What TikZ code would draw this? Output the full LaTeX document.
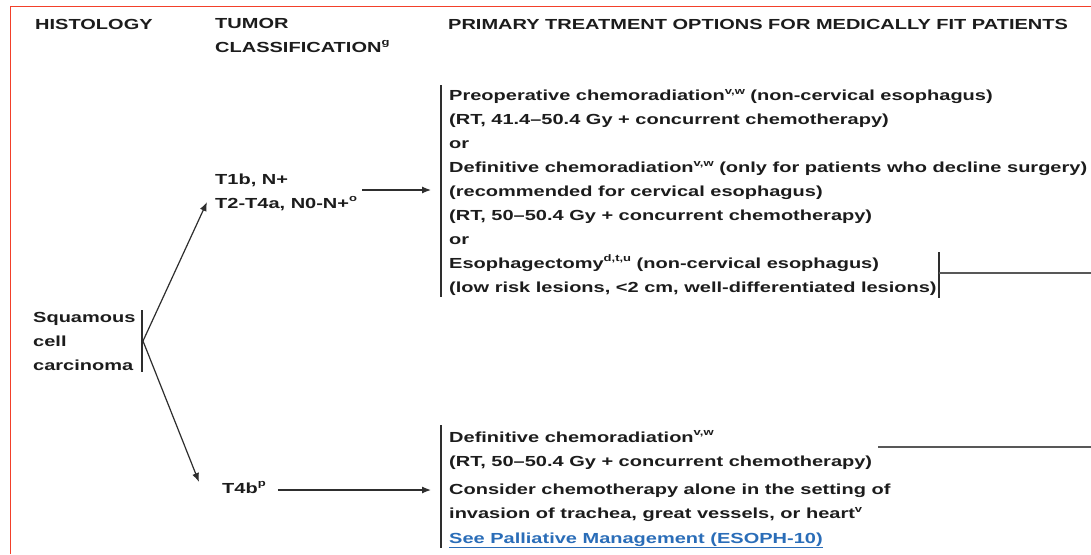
\documentclass[tikz,border=0pt]{standalone}
\usepackage{fontspec}
\setmainfont{Liberation Sans}[FakeStretch=1.37]
\usetikzlibrary{arrows.meta}
\definecolor{ink}{HTML}{1C1C1C}
\definecolor{framered}{HTML}{F2402A}
\definecolor{linkblue}{HTML}{2A6DB8}
\definecolor{wire}{HTML}{2E2E2E}
\newcommand{\supx}[1]{\raisebox{0.42em}{\fontsize{9.5}{9.5}\selectfont #1}}
\begin{document}
\begin{tikzpicture}[x=1pt,y=-1pt,
  txt/.style={inner sep=0pt, anchor=base west, align=left, text=ink,
    font=\bfseries\fontsize{14.6}{23.9}\selectfont},
  lowtxt/.style={txt, font=\bfseries\fontsize{14.6}{24.5}\selectfont},
  bar/.style={draw=wire, line width=1.2pt},
  wireline/.style={draw=wire!80, line width=1.5pt},
  arr/.style={draw=wire, line width=1.2pt, -{Latex[length=9pt,width=7pt]}}]
\useasboundingbox (0,0) rectangle (1091,554);
\fill[white] (0,0) rectangle (1091,554);
\draw[framered, line width=1.6pt] (10.5,554) -- (10.5,6.5) -- (1091,6.5);

% headers (base anchor = baseline of the last line)
\node[txt] (hist) at (35,29) {HISTOLOGY};
\node[txt] (tumor) at (215,52) {TUMOR\\CLASSIFICATION\supx{g}};
\node[txt] (primary) at (448,29) {PRIMARY TREATMENT OPTIONS FOR MEDICALLY FIT PATIENTS};

% histology
\node[txt] (scc) at (33,370) {Squamous\\cell\\carcinoma};
\draw[bar] (142,310) -- (142,372);
\coordinate (fork) at (143,341);

% classification
\node[txt] (t1) at (215,208) {T1b, N+\\T2-T4a, N0-N+\supx{o}};
\node[txt] (t4b) at (222,493) {T4b\supx{p}};
\coordinate (t1in) at (207,202);
\coordinate (t4bin) at (199,482);
\draw[arr] (fork) -- (t1in);
\draw[arr] (fork) -- (t4bin);

% treatment blocks
\node[txt] (up) at (449,292) {Preoperative chemoradiation\supx{v,w} (non-cervical esophagus)\\(RT, 41.4--50.4 Gy + concurrent chemotherapy)\\or\\Definitive chemoradiation\supx{v,w} (only for patients who decline surgery)\\(recommended for cervical esophagus)\\(RT, 50--50.4 Gy + concurrent chemotherapy)\\or\\Esophagectomy\supx{d,t,u} (non-cervical esophagus)\\(low risk lesions, <2 cm, well-differentiated lesions)};
\draw[bar] (441,85) -- (441,297);
\coordinate (upin) at (431,190);
\draw[arr] ([xshift=5pt]t1.east |- upin) -- (upin);

\node[lowtxt] (low) at (449,543) {Definitive chemoradiation\supx{v,w}\\(RT, 50--50.4 Gy + concurrent chemotherapy)\\[3pt]Consider chemotherapy alone in the setting of\\invasion of trachea, great vessels, or heart\supx{v}\\\textcolor{linkblue}{\underline{See Palliative Management (ESOPH-10)}}};
\draw[bar] (441,425) -- (441,548);
\coordinate (lowin) at (431,490);
\draw[arr] ([xshift=12pt]t4b.east |- lowin) -- (lowin);

% exits to the right
\draw[bar] (939,252) -- (939,298);
\coordinate (esoout) at (1091,273);
\draw[wireline] (939,273) -- (esoout);
\coordinate (defout) at (1091,447);
\draw[wireline] (878,447) -- (defout);
\end{tikzpicture}
\end{document}
